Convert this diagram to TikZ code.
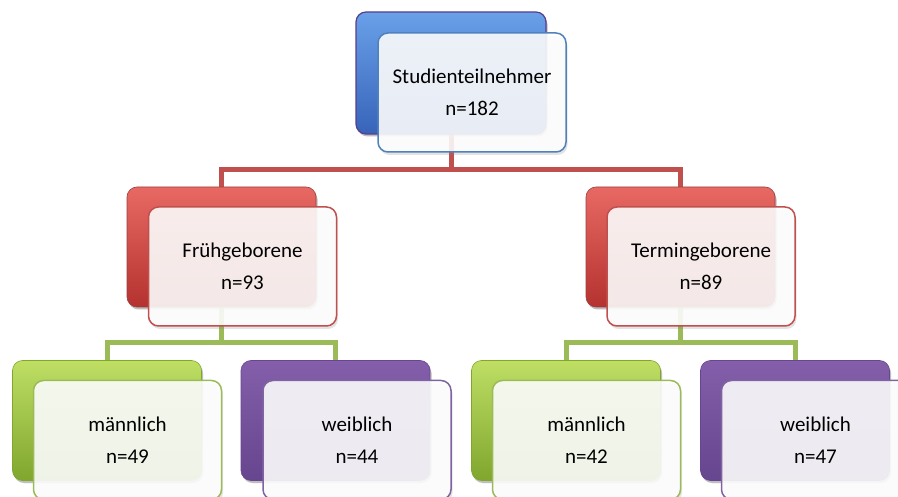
\documentclass[tikz,border=0pt]{standalone}
\usepackage{fontspec}
\setmainfont{Carlito}
\usetikzlibrary{shadows}
\definecolor{bluetop}{RGB}{105,160,232}
\definecolor{bluemid}{RGB}{72,128,212}
\definecolor{bluebot}{RGB}{55,100,185}
\definecolor{blueedge}{RGB}{88,62,140}
\definecolor{bluefront}{RGB}{79,129,189}
\definecolor{redtop}{RGB}{232,105,100}
\definecolor{redmid}{RGB}{206,66,62}
\definecolor{redbot}{RGB}{180,50,47}
\definecolor{rededge}{RGB}{192,80,77}
\definecolor{greentop}{RGB}{190,222,100}
\definecolor{greenmid}{RGB}{158,196,62}
\definecolor{greenbot}{RGB}{128,166,46}
\definecolor{greenedge}{RGB}{155,187,89}
\definecolor{purpletop}{RGB}{132,94,170}
\definecolor{purplemid}{RGB}{124,86,164}
\definecolor{purplebot}{RGB}{102,70,142}
\definecolor{purpleedge}{RGB}{128,100,162}
\tikzset{
  backbox/.style={rectangle, rounded corners=10pt, minimum width=189pt, minimum height=120pt, inner sep=0pt, outer sep=0pt,
    drop shadow={opacity=0.3, shadow xshift=1.5pt, shadow yshift=-2.5pt}},
  frontbox/.style={rectangle, rounded corners=10pt, minimum width=188pt, minimum height=119pt, inner sep=0pt, outer sep=0pt,
    fill=white, fill opacity=0.88, text opacity=1, line width=1.5pt, align=center,
    font=\fontsize{21}{32}\selectfont, text=black,
    drop shadow={opacity=0.22, shadow xshift=1.5pt, shadow yshift=-3pt}},
  redline/.style={draw=rededge, line width=5pt},
  greenline/.style={draw=greenedge, line width=5pt},
}
\begin{document}
\begin{tikzpicture}[x=1pt,y=-1pt]
\useasboundingbox (0,0) rectangle (898,497);
\clip (0,0) rectangle (898,497);
% level coordinates for connectors
\coordinate (redlevel) at (0,170);
\coordinate (greenlevel) at (0,343);
% back boxes (positions only here; drawn later)
\path
  (451,73) node[backbox, minimum width=190pt, minimum height=122pt] (topb) {}
  (221.5,247) node[backbox] (frb) {}
  (680.5,247) node[backbox] (tmb) {}
  (107,420.5) node[backbox] (m1b) {}
  (335.5,420.5) node[backbox] (w1b) {}
  (566,420.5) node[backbox] (m2b) {}
  (795,420.5) node[backbox] (w2b) {};
% connectors
\draw[redline] (topb.south) -- (topb.south |- redlevel) -| (frb.north);
\draw[redline] (topb.south |- redlevel) -| (tmb.north);
\draw[greenline] (frb.south) -- (frb.south |- greenlevel) -| (m1b.north);
\draw[greenline] (frb.south |- greenlevel) -| (w1b.north);
\draw[greenline] (tmb.south) -- (tmb.south |- greenlevel) -| (m2b.north);
\draw[greenline] (tmb.south |- greenlevel) -| (w2b.north);
% back boxes drawn
\node[backbox, minimum width=190pt, minimum height=122pt, top color=bluetop, middle color=bluemid, bottom color=bluebot, draw=blueedge, line width=1.2pt] at (topb) {};
\node[backbox, top color=redtop, middle color=redmid, bottom color=redbot, draw=rededge!80!black, line width=0.6pt] at (frb) {};
\node[backbox, top color=redtop, middle color=redmid, bottom color=redbot, draw=rededge!80!black, line width=0.6pt] at (tmb) {};
\node[backbox, top color=greentop, middle color=greenmid, bottom color=greenbot, draw=greenbot, line width=0.6pt] at (m1b) {};
\node[backbox, top color=purpletop, middle color=purplemid, bottom color=purplebot, draw=purplebot, line width=0.6pt] at (w1b) {};
\node[backbox, top color=greentop, middle color=greenmid, bottom color=greenbot, draw=greenbot, line width=0.6pt] at (m2b) {};
\node[backbox, top color=purpletop, middle color=purplemid, bottom color=purplebot, draw=purplebot, line width=0.6pt] at (w2b) {};
% front boxes
\node[frontbox, draw=bluefront] (top) at (472,92.5) {Studienteilnehmer\\n=182};
\node[frontbox, draw=rededge] (fr) at (242.5,266.5) {Frühgeborene\\n=93};
\node[frontbox, draw=rededge] (tm) at (701,266.5) {Termingeborene\\n=89};
\node[frontbox, draw=greenedge] (m1) at (127.5,440) {männlich\\n=49};
\node[frontbox, draw=purpleedge] (w1) at (357,440) {weiblich\\n=44};
\node[frontbox, draw=greenedge] (m2) at (586.5,440) {männlich\\n=42};
\node[frontbox, draw=purpleedge] (w2) at (815.5,440) {weiblich\\n=47};
\end{tikzpicture}
\end{document}
